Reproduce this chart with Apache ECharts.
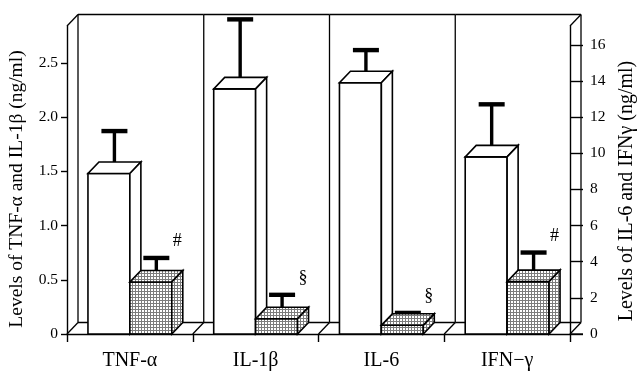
<!DOCTYPE html>
<html>
<head>
<meta charset="utf-8">
<script src="https://cdn.jsdelivr.net/npm/echarts@6/dist/echarts.min.js"></script>
<style>
  html, body { margin: 0; padding: 0; background: #fff; }
  #chart { width: 640px; height: 378px; }
</style>
</head>
<body>
<div id="chart"></div>
<script>
// Cytokine levels, control (open bars) vs treated (stippled bars), mean and top of SD bar.
const categories = ['TNF-α', 'IL-1β', 'IL-6', 'IFN−γ'];
// 0 = left axis (TNF-α, IL-1β), 1 = right axis (IL-6, IFNγ)
const axisOf = [0, 0, 1, 1];
const controlMean = [1.48, 2.26, 13.9, 9.8];
const controlErrTop = [1.82, 2.85, 15.4, 12.4];
const treatedMean = [0.48, 0.14, 0.48, 2.9];
const treatedErrTop = [0.65, 0.31, 0.86, 4.2];
const treatedMarks = ['#', '§', '§', '#'];
const leftTicks = [0, 0.5, 1, 1.5, 2, 2.5];
const rightTicks = [0, 2, 4, 6, 8, 10, 12, 14, 16];
const leftMax = 2.84;
const rightMax = 17.04;

const SERIF = '"Liberation Serif", "Times New Roman", serif';
const DX = 11, DY = -11.5;      // depth offset of the 3-D box
const BAR_FRAC = 1 / 3;         // each bar's share of a category band

// stipple fill used for treated bars
const tile = document.createElement('canvas');
tile.width = 3; tile.height = 3;
(function () {
  const c = tile.getContext('2d');
  c.fillStyle = '#ffffff'; c.fillRect(0, 0, 3, 3);
  c.fillStyle = '#7c7c7c';
  c.fillRect(0, 0, 3, 1);
  c.fillRect(0, 0, 1, 3);
})();
const stipple = { image: tile, repeat: 'repeat' };

function rows(means, errs, axis) {
  const out = [];
  for (let i = 0; i < categories.length; i++) {
    if (axisOf[i] === axis) out.push([i, means[i], errs[i]]);
  }
  return out;
}

function barRenderer(kind) {
  return function (params, api) {
    const ci = api.value(0);
    const base = api.coord([ci, 0]);
    const top = api.coord([ci, api.value(1)]);
    const capPt = api.coord([ci, api.value(2)]);
    const band = api.size([1, 0])[0];
    const w = band * BAR_FRAC;
    const x0 = kind === 'control' ? base[0] - w : base[0];
    const x1 = x0 + w;
    const ty = top[1], by = base[1];
    const fill = kind === 'control' ? '#ffffff' : stipple;
    const line = { stroke: '#000', lineWidth: 1.6, lineJoin: 'miter' };

    const sx = x0 + w / 2 + DX / 2;
    const capY = capPt[1] + DY / 2;
    const stemBottom = ty + DY / 2;
    const children = [
      { type: 'rect', shape: { x: sx - 1.7, y: capY, width: 3.4, height: stemBottom - capY }, style: { fill: '#000' } },
      { type: 'rect', shape: { x: sx - 13, y: capY - 2, width: 26, height: 4.4 }, style: { fill: '#000' } },
      { type: 'rect', shape: { x: x0, y: ty, width: w, height: by - ty },
        style: Object.assign({ fill: fill }, line) },
      { type: 'polygon', shape: { points: [[x0, ty], [x1, ty], [x1 + DX, ty + DY], [x0 + DX, ty + DY]] },
        style: Object.assign({ fill: fill }, line) },
      { type: 'polygon', shape: { points: [[x1, ty], [x1 + DX, ty + DY], [x1 + DX, by + DY], [x1, by]] },
        style: Object.assign({ fill: fill }, line) }
    ];
    if (kind === 'treated') {
      children.push({
        type: 'text', x: sx + 21, y: capY - 16,
        style: { text: treatedMarks[ci], font: '18px ' + SERIF, fill: '#000', align: 'center', verticalAlign: 'middle' }
      });
    }
    return { type: 'group', children: children };
  };
}

// back walls, floor strip and the dividers between cytokines
function frameRenderer(params, api) {
  const ci = api.value(0);
  const b = api.coord([ci, 0]);
  const band = api.size([1, 0])[0];
  const yTop = api.coord([ci, leftMax])[1];
  const xL = b[0] - band / 2, xR = b[0] + band / 2, yB = b[1];
  const st = { stroke: '#000', lineWidth: 1.3 };
  const seg = (x1, y1, x2, y2) => ({ type: 'line', shape: { x1, y1, x2, y2 }, style: st });
  const ch = [
    seg(xL + DX, yTop + DY, xR + DX, yTop + DY),
    seg(xL + DX, yB + DY, xR + DX, yB + DY),
    seg(xL, yB, xL + DX, yB + DY),
    seg(xL + DX, yB + DY, xL + DX, yTop + DY)
  ];
  if (ci === 0) ch.push(seg(xL, yTop, xL + DX, yTop + DY));
  if (ci === categories.length - 1) {
    ch.push(seg(xR, yB, xR + DX, yB + DY));
    ch.push(seg(xR + DX, yB + DY, xR + DX, yTop + DY));
    ch.push(seg(xR, yTop, xR + DX, yTop + DY));
    ch.push(seg(xR, yB, xR + 13, yB));
  }
  return { type: 'group', children: ch };
}

const chart = echarts.init(document.getElementById('chart'), null, { renderer: 'canvas' });
const axisLine = { show: true, lineStyle: { color: '#000', width: 1.4 } };

chart.setOption({
  animation: false,
  backgroundColor: '#fff',
  grid: { left: 67, right: 70, top: 26, bottom: 44 },
  xAxis: {
    type: 'category',
    data: categories,
    axisLine: axisLine,
    axisTick: { show: true, length: 8, lineStyle: { color: '#000', width: 1.4 } },
    axisLabel: { fontFamily: SERIF, fontSize: 20, color: '#000', margin: 17 },
    splitLine: { show: false }
  },
  yAxis: [
    {
      type: 'value', position: 'left', min: 0, max: leftMax,
      axisLine: axisLine,
      axisTick: { show: true, length: 6, customValues: leftTicks, lineStyle: { color: '#000', width: 1.4 } },
      axisLabel: {
        customValues: leftTicks, fontFamily: SERIF, fontSize: 15.5, color: '#000', margin: 9,
        formatter: v => (v === 0 ? '0' : v.toFixed(1))
      },
      splitLine: { show: false }
    },
    {
      type: 'value', position: 'right', min: 0, max: rightMax,
      axisLine: axisLine,
      axisTick: { show: true, length: 13, customValues: rightTicks, lineStyle: { color: '#000', width: 1.4 } },
      axisLabel: { customValues: rightTicks, fontFamily: SERIF, fontSize: 15.5, color: '#000', margin: 20 },
      splitLine: { show: false }
    }
  ],
  graphic: [
    {
      type: 'text', x: 17, y: 189, rotation: Math.PI / 2,
      style: { text: 'Levels of TNF-α and IL-1β (ng/ml)', font: '19.5px ' + SERIF, fill: '#000', align: 'center', verticalAlign: 'middle' }
    },
    {
      type: 'text', x: 627, y: 191, rotation: Math.PI / 2,
      style: { text: 'Levels of IL-6 and IFNγ (ng/ml)', font: '20px ' + SERIF, fill: '#000', align: 'center', verticalAlign: 'middle' }
    }
  ],
  series: [
    { type: 'custom', name: 'frame', xAxisIndex: 0, yAxisIndex: 0, z: 1, clip: false,
      renderItem: frameRenderer, data: categories.map((c, i) => [i]) },
    { type: 'custom', name: 'control', yAxisIndex: 0, z: 3, clip: false,
      renderItem: barRenderer('control'), data: rows(controlMean, controlErrTop, 0) },
    { type: 'custom', name: 'treated', yAxisIndex: 0, z: 3, clip: false,
      renderItem: barRenderer('treated'), data: rows(treatedMean, treatedErrTop, 0) },
    { type: 'custom', name: 'control', yAxisIndex: 1, z: 3, clip: false,
      renderItem: barRenderer('control'), data: rows(controlMean, controlErrTop, 1) },
    { type: 'custom', name: 'treated', yAxisIndex: 1, z: 3, clip: false,
      renderItem: barRenderer('treated'), data: rows(treatedMean, treatedErrTop, 1) }
  ]
});
</script>
</body>
</html>
